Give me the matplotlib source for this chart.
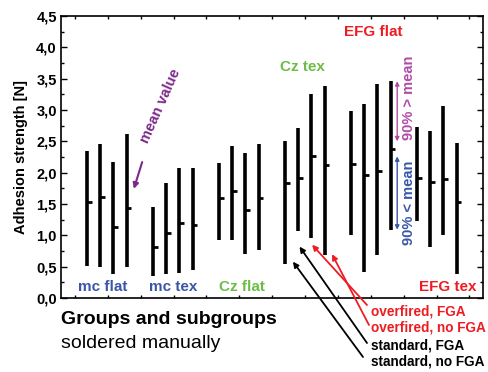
import matplotlib
matplotlib.use("Agg")
import matplotlib.pyplot as plt
import numpy as np

plt.rcParams['font.family'] = ['Liberation Sans', 'DejaVu Sans']

groups = ["mc flat", "mc tex", "Cz flat", "Cz tex", "EFG flat", "EFG tex"]
group_colors = ["#3a56a8", "#3a56a8", "#6cbd45", "#6cbd45", "#ee1d23", "#ee1d23"]

tops = [
    [2.35, 2.45, 2.17, 2.61],
    [1.46, 1.84, 2.08, 2.07],
    [2.15, 2.43, 2.32, 2.45],
    [2.51, 2.71, 3.26, 3.38],
    [2.99, 3.10, 3.42, 3.47],
    [2.73, 2.66, 3.06, 2.47],
]
bottoms = [
    [0.51, 0.50, 0.38, 0.49],
    [0.35, 0.39, 0.40, 0.44],
    [0.92, 0.93, 0.70, 0.77],
    [0.54, 1.07, 0.95, 0.69],
    [1.01, 0.41, 0.69, 1.08],
    [1.23, 0.82, 1.00, 0.39],
]
means = [
    [1.53, 1.61, 1.14, 1.44],
    [0.82, 1.03, 1.19, 1.17],
    [1.59, 1.71, 1.41, 1.59],
    [1.84, 1.91, 2.27, 2.12],
    [2.14, 1.96, 2.03, 2.38],
    [1.91, 1.85, 1.90, 1.53],
]
subgroups = ["overfired, FGA", "overfired, no FGA", "standard, FGA", "standard, no FGA"]
subgroup_colors = ["#ee1d23", "#ee1d23", "black", "black"]
yticks = [0.0, 0.5, 1.0, 1.5, 2.0, 2.5, 3.0, 3.5, 4.0, 4.5]

fig = plt.figure(figsize=(4.89, 3.72), dpi=100)
ax = fig.add_axes([61/489, 1-298/372, 422/489, 282/372])

for g in range(len(groups)):
    for s in range(4):
        x = g*5 + s
        ax.plot([x, x], [bottoms[g][s], tops[g][s]], color='black', lw=2.6,
                solid_capstyle='butt')
        ax.plot([x, x+0.36], [means[g][s], means[g][s]], color='black', lw=2.0,
                solid_capstyle='butt')

ax.set_xlim(-1.97, 30.0)
ax.set_ylim(0, 4.5)
ax.set_yticks(yticks)
ax.set_yticklabels([f"{v:.1f}".replace('.', ',') for v in yticks],
                   fontsize=10.5, fontweight='bold')
ax.set_yticks(np.arange(0.25, 4.5, 0.5), minor=True)
ax.set_xticks(-0.91 + 2.49*np.arange(13))
ax.set_xticklabels([])
ax.tick_params(axis='y', which='major', direction='in', length=4, width=1,
               right=True, left=True, pad=3)
ax.tick_params(axis='y', which='minor', direction='in', length=2.5, width=1,
               right=True, left=True)
ax.tick_params(axis='x', which='major', direction='in', length=2.5, width=1,
               top=True, bottom=True)
for sp in ax.spines.values():
    sp.set_linewidth(1.2)
ax.set_ylabel("Adhesion strength [N]", fontsize=10.5, fontweight='bold', labelpad=6)

# group labels
label_pos = [(103, 287), (173, 287), (242, 287), (302, 67), (373, 32), (448, 287)]
for (lbl, col, (px, py)) in zip(groups, group_colors, label_pos):
    fig.text(px/489, 1-py/372, lbl, color=col, fontsize=11, fontweight='bold',
             ha='center', va='center')

# mean value annotation
fig.text(161/489, 1-106/372, "mean value", color='#7b2a8a', fontsize=10.5,
         fontweight='bold', rotation=66, ha='center', va='center')
ax.annotate("", xy=((133-87)/13.2, (298-192)/62.4),
            xytext=((143-87)/13.2, (298-160)/62.4),
            arrowprops=dict(arrowstyle='-|>', color='#7b2a8a', lw=1.5,
                            mutation_scale=8))

# 90% arrows
ax.annotate("", xy=(23.5, 3.46), xytext=(23.5, 2.5),
            arrowprops=dict(arrowstyle='<|-|>', color='#b04ca6', lw=1.0,
                            mutation_scale=6, shrinkA=0, shrinkB=0))
ax.annotate("", xy=(23.5, 2.26), xytext=(23.5, 1.09),
            arrowprops=dict(arrowstyle='<|-|>', color='#3a56a8', lw=1.0,
                            mutation_scale=6, shrinkA=0, shrinkB=0))
fig.text(409/489, 1-98/372, "90% > mean", color='#b04ca6', fontsize=10.5,
         fontweight='bold', rotation=90, ha='center', va='center')
fig.text(409/489, 1-203/372, "90% < mean", color='#3a56a8', fontsize=10.5,
         fontweight='bold', rotation=90, ha='center', va='center')

# subgroup legend arrows
tips = [(17.05, 0.85), (18.56, 0.70), (16.1, 0.82), (15.6, 0.58)]
tails = [(367, 67), (369, 47), (367, 29), (363, 15)]
text_y = [60, 44, 27, 10]
for lbl, col, tip, tail, ty in zip(subgroups, subgroup_colors, tips, tails, text_y):
    ax.annotate("", xy=tip, xycoords='data', xytext=tail,
                textcoords='figure pixels', annotation_clip=False,
                arrowprops=dict(arrowstyle='-|>', color=col, lw=1.3,
                                mutation_scale=8, shrinkA=0, shrinkB=0))
    fig.text(371/489, ty/372, lbl, color=col, fontsize=9.8, fontweight='bold',
             ha='left', va='center')

fig.text(61/489, 1-319/372, "Groups and subgroups", fontsize=14,
         fontweight='bold', ha='left', va='center')
fig.text(61/489, 1-343/372, "soldered manually", fontsize=14,
         ha='left', va='center')

fig.savefig("out.png", dpi=100)
